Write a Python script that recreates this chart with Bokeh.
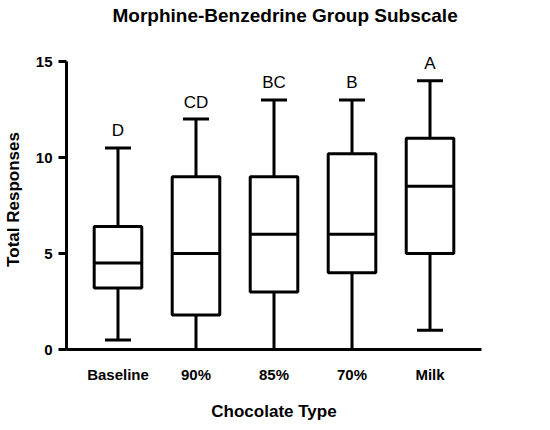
from bokeh.plotting import figure
from bokeh.models import ColumnDataSource, Whisker, TeeHead, LabelSet, FixedTicker, FactorRange, Range1d, Title
from bokeh.core.properties import value
from bokeh.embed import file_html
from bokeh.resources import INLINE

categories = ["Baseline", "90%", "85%", "70%", "Milk"]
whisker_min = [0.5, 0.0, 0.0, 0.0, 1.0]
q1 = [3.2, 1.8, 3.0, 4.0, 5.0]
median = [4.5, 5.0, 6.0, 6.0, 8.5]
q3 = [6.4, 9.0, 9.0, 10.2, 11.0]
whisker_max = [10.5, 12.0, 13.0, 13.0, 14.0]
letters = ["D", "CD", "BC", "B", "A"]
y_ticks = [0, 5, 10, 15]
title_text = "Morphine-Benzedrine Group Subscale"

FONT = "Liberation Sans"

src = ColumnDataSource(dict(x=categories, lo=whisker_min, q1=q1, med=median,
                            q3=q3, hi=whisker_max, lab=letters))

p = figure(x_range=FactorRange(factors=categories, range_padding=0.16,
                               range_padding_units="absolute"),
           y_range=Range1d(0, 15.625),
           frame_width=415, frame_height=300,
           min_border_left=59, min_border_top=0, min_border_right=60, min_border_bottom=64,
           output_backend="svg", toolbar_location=None, title=None)

# spacer between frame and title, then the title itself (further out)
p.add_layout(Title(text=" ", text_font_size="1px", standoff=19), "above")
p.add_layout(Title(text=title_text, text_font=FONT, text_font_size="19px",
                   text_font_style="bold", text_color="black", align="left",
                   offset=46, standoff=4), "above")

p.outline_line_color = None
p.grid.grid_line_color = None
p.background_fill_color = "white"

# boxes
p.vbar(x="x", bottom="q1", top="q3", width=0.61, source=src,
       fill_color="white", line_color="black", line_width=3)
# medians
p.vbar(x="x", bottom="med", top="med", width=0.61, source=src,
       fill_color=None, line_color="black", line_width=3)

upper = Whisker(base="x", lower="q3", upper="hi", source=src, dimension="height",
                line_color="black", line_width=3,
                upper_head=TeeHead(size=26, line_width=3, line_color="black"),
                lower_head=None)
lower = Whisker(base="x", lower="lo", upper="q1", source=src, dimension="height",
                line_color="black", line_width=3,
                lower_head=TeeHead(size=26, line_width=3, line_color="black"),
                upper_head=None)
p.add_layout(upper)
p.add_layout(lower)

labels = LabelSet(x="x", y="hi", text="lab", source=src, y_offset=17,
                  text_align="center", text_baseline="middle",
                  text_font=value(FONT), text_font_size=value("17px"), text_color="black")
p.add_layout(labels)

# axes
p.yaxis.ticker = FixedTicker(ticks=y_ticks)
p.yaxis.bounds = (0, 15)
p.yaxis.minor_tick_line_color = None
p.yaxis.major_tick_out = 8
p.yaxis.major_tick_in = 0
p.yaxis.major_tick_line_width = 3
p.yaxis.major_tick_line_color = "black"
p.yaxis.axis_line_width = 3
p.yaxis.major_label_standoff = 6
p.yaxis.axis_label = "Total Responses"
p.yaxis.axis_label_standoff = 10

p.xaxis.major_tick_line_color = None
p.xaxis.major_tick_out = 0
p.xaxis.major_tick_in = 0
p.xaxis.minor_tick_line_color = None
p.xaxis.axis_line_width = 3
p.xaxis.major_label_standoff = 16
p.xaxis.axis_label = "Chocolate Type"
p.xaxis.axis_label_standoff = 16

for ax in (p.xaxis, p.yaxis):
    ax.axis_line_color = "black"
    ax.major_label_text_font = FONT
    ax.major_label_text_font_style = "bold"
    ax.major_label_text_font_size = "15px"
    ax.major_label_text_color = "black"
    ax.axis_label_text_font = FONT
    ax.axis_label_text_font_style = "bold"
    ax.axis_label_text_font_size = "17px"
    ax.axis_label_text_color = "black"

open("out.html", "w").write(file_html(p, INLINE))
